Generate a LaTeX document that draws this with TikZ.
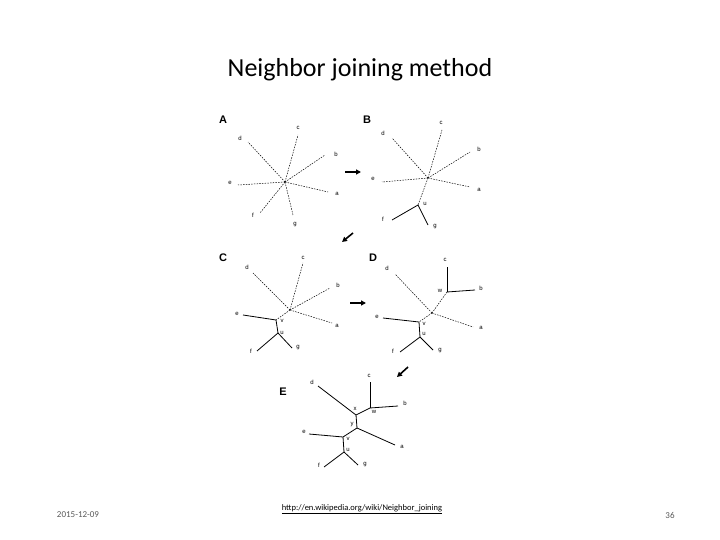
\documentclass[tikz,border=0pt]{standalone}
\usepackage{fontspec}
\setmainfont{Liberation Sans}
\newfontfamily\carlitofont{Carlito}
\usetikzlibrary{arrows.meta}
\begin{document}
\begin{tikzpicture}[x=1pt,y=-1pt,
  dsh/.style={line width=0.5pt,dash pattern=on 1.5pt off 1.2pt},
  sol/.style={line width=0.8pt},
  lbl/.style={font=\fontsize{6}{6}\selectfont,inner sep=0pt},
  pl/.style={font=\fontsize{11}{11}\selectfont\bfseries,inner sep=0pt},
  arr/.style={-{Triangle[length=5pt,width=5pt]},line width=1.6pt},
  foot/.style={font=\carlitofont\fontsize{9}{9}\selectfont,text=black!65,inner sep=0pt}]
\useasboundingbox (0,0) rectangle (720,540);
\node[font=\carlitofont\fontsize{26}{26}\selectfont] (title) at (360,70) {Neighbor joining method};
% ---- A
\node[pl] (A) at (223,120) {A};
\coordinate (Ao) at (285,182);
\foreach \n/\ex/\ey/\lx/\ly in {d/248/142/240/138, c/298/135/298/128, b/325/155/336/154, e/238/185/230/183, a/328/192/337/194, f/260/213/253/215, g/293/215/295/225}{
  \coordinate (A\n e) at (\ex,\ey); \node[lbl] (A\n) at (\lx,\ly) {\n}; \draw[dsh] (Ao) -- (A\n e);}
% ---- B
\node[pl] (B) at (367,120) {B};
\coordinate (Bo) at (428,178); \coordinate (Bu) at (418,205);
\foreach \n/\ex/\ey/\lx/\ly in {d/392/138/383/133, c/442/130/441/123, b/470/152/479/149, e/382/182/373/179, a/470/187/479/190}{
  \coordinate (B\n e) at (\ex,\ey); \node[lbl] (B\n) at (\lx,\ly) {\n}; \draw[dsh] (Bo) -- (B\n e);}
\draw[dsh] (Bo) -- (Bu);
\node[lbl] (Bul) at (425,204) {u};
\foreach \n/\ex/\ey/\lx/\ly in {f/392/220/383/219, g/428/225/435/227}{
  \coordinate (B\n e) at (\ex,\ey); \node[lbl] (B\n) at (\lx,\ly) {\n}; \draw[sol] (Bu) -- (B\n e);}
% ---- C
\node[pl] (C) at (223,258) {C};
\coordinate (Co) at (290,310); \coordinate (Cv) at (276,320); \coordinate (Cu) at (278,333);
\foreach \n/\ex/\ey/\lx/\ly in {d/253/273/247/267, c/303/263/303/258, b/330/288/338/285, a/332/323/337/326}{
  \coordinate (C\n e) at (\ex,\ey); \node[lbl] (C\n) at (\lx,\ly) {\n}; \draw[dsh] (Co) -- (C\n e);}
\draw[dsh] (Co) -- (Cv);
\coordinate (Cee) at (243,315); \node[lbl] (Ce) at (237,314) {e}; \draw[sol] (Cv) -- (Cee);
\draw[sol] (Cv) -- (Cu);
\node[lbl] (Cvl) at (282,321) {v}; \node[lbl] (Cul) at (282,333) {u};
\foreach \n/\ex/\ey/\lx/\ly in {f/257/351/251/351, g/292/348/298/348}{
  \coordinate (C\n e) at (\ex,\ey); \node[lbl] (C\n) at (\lx,\ly) {\n}; \draw[sol] (Cu) -- (C\n e);}
% ---- D
\node[pl] (D) at (373,258) {D};
\coordinate (Do) at (432,313); \coordinate (Dw) at (447,292); \coordinate (Dv) at (419,322); \coordinate (Du) at (420,337);
\foreach \n/\ex/\ey/\lx/\ly in {d/395/274/387/268, a/473/327/481/328}{
  \coordinate (D\n e) at (\ex,\ey); \node[lbl] (D\n) at (\lx,\ly) {\n}; \draw[dsh] (Do) -- (D\n e);}
\draw[dsh] (Do) -- (Dw); \draw[dsh] (Do) -- (Dv);
\foreach \n/\ex/\ey/\lx/\ly in {c/447/267/445/260, b/475/290/481/288}{
  \coordinate (D\n e) at (\ex,\ey); \node[lbl] (D\n) at (\lx,\ly) {\n}; \draw[sol] (Dw) -- (D\n e);}
\node[lbl] (Dwl) at (440,291) {w};
\coordinate (Dee) at (383,318); \node[lbl] (De) at (377,317) {e}; \draw[sol] (Dv) -- (Dee);
\draw[sol] (Dv) -- (Du);
\node[lbl] (Dvl) at (424,324) {v}; \node[lbl] (Dul) at (424,334) {u};
\foreach \n/\ex/\ey/\lx/\ly in {f/400/352/393/351, g/433/350/440/351}{
  \coordinate (D\n e) at (\ex,\ey); \node[lbl] (D\n) at (\lx,\ly) {\n}; \draw[sol] (Du) -- (D\n e);}
% ---- E
\node[pl] (E) at (283,392) {E};
\coordinate (Ex) at (356,415); \coordinate (Ew) at (370,408); \coordinate (Ey) at (357,428);
\coordinate (Ev) at (343,437); \coordinate (Eu) at (344,452);
\coordinate (Ede) at (318,386); \node[lbl] (Ed) at (312,382) {d}; \draw[sol] (Ex) -- (Ede);
\draw[sol] (Ex) -- (Ew); \draw[sol] (Ex) -- (Ey);
\foreach \n/\ex/\ey/\lx/\ly in {c/370/382/369/376, b/398/406/405/403}{
  \coordinate (E\n e) at (\ex,\ey); \node[lbl] (E\n) at (\lx,\ly) {\n}; \draw[sol] (Ew) -- (E\n e);}
\coordinate (Eae) at (395,445); \node[lbl] (Ea) at (402,447) {a}; \draw[sol] (Ey) -- (Eae);
\draw[sol] (Ey) -- (Ev);
\coordinate (Eee) at (309,434); \node[lbl] (Ee) at (304,432) {e}; \draw[sol] (Ev) -- (Eee);
\draw[sol] (Ev) -- (Eu);
\foreach \n/\ex/\ey/\lx/\ly in {f/324/467/319/465, g/358/465/365/465}{
  \coordinate (E\n e) at (\ex,\ey); \node[lbl] (E\n) at (\lx,\ly) {\n}; \draw[sol] (Eu) -- (E\n e);}
\node[lbl] (Exl) at (355,409) {x}; \node[lbl] (Ewl) at (374,412) {w};
\node[lbl] (Eyl) at (352,425) {y}; \node[lbl] (Evl) at (348,439) {v}; \node[lbl] (Eul) at (348,450) {u};
% ---- arrows
\coordinate (a1s) at (345,172); \coordinate (a1e) at (361,172); \draw[arr] (a1s) -- (a1e);
\coordinate (a2s) at (353,233); \coordinate (a2e) at (342,242); \draw[arr] (a2s) -- (a2e);
\coordinate (a3s) at (350,303); \coordinate (a3e) at (366,303); \draw[arr] (a3s) -- (a3e);
\coordinate (a4s) at (408,367); \coordinate (a4e) at (397,377); \draw[arr] (a4s) -- (a4e);
% ---- footer
\node[foot] (date) at (78,515) {2015-12-09};
\node[foot,text=black,font=\carlitofont\fontsize{8.5}{8.5}\selectfont] (url) at (362,509) {\underline{http://en.wikipedia.org/wiki/Neighbor\_joining}};
\node[foot] (pg) at (670,515) {36};
\end{tikzpicture}
\end{document}
